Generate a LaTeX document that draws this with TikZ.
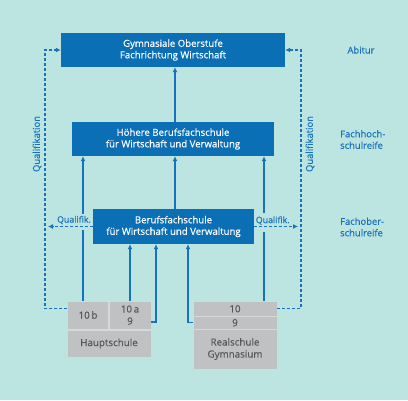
\documentclass[tikz,border=0pt]{standalone}
\usepackage{fontspec}
\setmainfont{Open Sans}
\newfontfamily\medfont{Open Sans}[FakeBold=0.6]
\newfontfamily\lightmed{Open Sans}[FakeBold=0.3]
\usetikzlibrary{arrows.meta}
\definecolor{bg}{HTML}{BCE4E1}
\definecolor{boxblue}{HTML}{0B6FB5}
\definecolor{lineblue}{HTML}{1872BA}
\definecolor{cellgray}{HTML}{C0C1C3}
\definecolor{cellline}{HTML}{D6D8D9}
\definecolor{graytext}{HTML}{55575A}
\tikzset{
  bluebox/.style={fill=boxblue, text=white, align=center, inner sep=0pt,
    font=\medfont\fontsize{9.6}{11.5}\selectfont},
  cell/.style={fill=cellgray, draw=cellline, line width=0.8pt, text=graytext,
    align=center, inner sep=0pt, font=\lightmed\fontsize{9.8}{12}\selectfont},
  sline/.style={draw=lineblue, line width=1.3pt},
  arr/.style={sline, -{Latex[length=5pt,width=5pt]}},
  qline/.style={draw=lineblue, line width=1.1pt, dash pattern=on 3pt off 2pt},
  qarr/.style={qline, -{Latex[length=5pt,width=5pt]}},
  sidelabel/.style={text=lineblue, font=\lightmed\fontsize{9.4}{11.5}\selectfont, inner sep=0pt},
  qlabel/.style={text=lineblue, font=\lightmed\fontsize{8.8}{10}\selectfont, inner sep=0pt}
}
\begin{document}
\begin{tikzpicture}[x=1pt,y=-1pt]
\fill[bg] (0,0) rectangle (408,400);
\useasboundingbox (0,0) rectangle (408,400);

% main boxes
\node[bluebox, minimum width=224pt, minimum height=34pt] (top) at (173,50)
  {Gymnasiale Oberstufe\\Fachrichtung Wirtschaft};
\node[bluebox, minimum width=202pt, minimum height=34pt] (hbf) at (173,139)
  {Höhere Berufsfachschule\\für Wirtschaft und Verwaltung};
\node[bluebox, minimum width=161pt, minimum height=35pt] (bfs) at (173.5,226.5)
  {Berufsfachschule\\für Wirtschaft und Verwaltung};

% Hauptschule block
\node[cell, minimum width=41pt, minimum height=28pt] (c10b) at (88,315) {10\,b};
\node[cell, minimum width=42pt, minimum height=28pt] (c10a) at (130,315) {10\,a\\9};
\node[cell, minimum width=84pt, minimum height=27pt] (chs) at (109,343.5) {Hauptschule};

% Realschule block
\node[cell, minimum width=84pt, minimum height=15.5pt] (r10) at (235,308.75) {10};
\node[cell, minimum width=84pt, minimum height=12.5pt] (r9) at (235,322.75) {9};
\node[cell, minimum width=84pt, minimum height=40pt] (rrg) at (235,349) {Realschule\\Gymnasium};

% helper coordinates
\coordinate (mx) at (175,0);
\coordinate (kh) at (156,322);
\coordinate (kr) at (188,322);
\coordinate (dl) at (45,309);
\coordinate (dr) at (301,309);
\coordinate (ql) at (48,226.5);
\coordinate (qr) at (298,226.5);
\coordinate (gl1) at (83,230);
\coordinate (gl2) at (83,214);
\coordinate (gr1) at (264,232);
\coordinate (gr2) at (264,213);

% solid arrows
\draw[arr] (mx |- hbf.north) -- (mx |- top.south);
\draw[arr] (mx |- bfs.north) -- (mx |- hbf.south);
\draw[sline] (gl1 |- c10b.north) -- (gl1);
\draw[arr] (gl2) -- (gl2 |- hbf.south);
\draw[sline] (gr1 |- r10.north) -- (gr1);
\draw[arr] (gr2) -- (gr2 |- hbf.south);
\draw[arr] (c10a.north) -- (c10a.north |- bfs.south);
\draw[arr] ([yshift=-7pt]c10a.east) -| (kh |- bfs.south);
\draw[arr] (r9.west) -| (kr |- bfs.south);

% dashed qualification paths
\draw[qarr] ([yshift=-8pt]c10b.north west) -| (dl |- top.west) -- (top.west);
\draw[qarr] ([yshift=-8pt]r10.north east) -| (dr |- top.east) -- (top.east);
\draw[qarr] (bfs.west) -- (ql);
\draw[qarr] (bfs.east) -- (qr);

% labels
\node[qlabel] (qlt) at (74,220) {Qualifik.};
\node[qlabel] (qrt) at (272.7,220.5) {Qualifik.};
\node[sidelabel, rotate=90] (qv1) at (37,144) {Qualifikation};
\node[sidelabel, rotate=90] (qv2) at (310,144) {Qualifikation};
\node[sidelabel] (abi) at (361,50) {Abitur};
\node[sidelabel, align=left, anchor=west] (fhr) at (340,139.5) {Fachhoch-\\schulreife};
\node[sidelabel, align=left, anchor=west] (for) at (340,227) {Fachober-\\schulreife};
\end{tikzpicture}
\end{document}
